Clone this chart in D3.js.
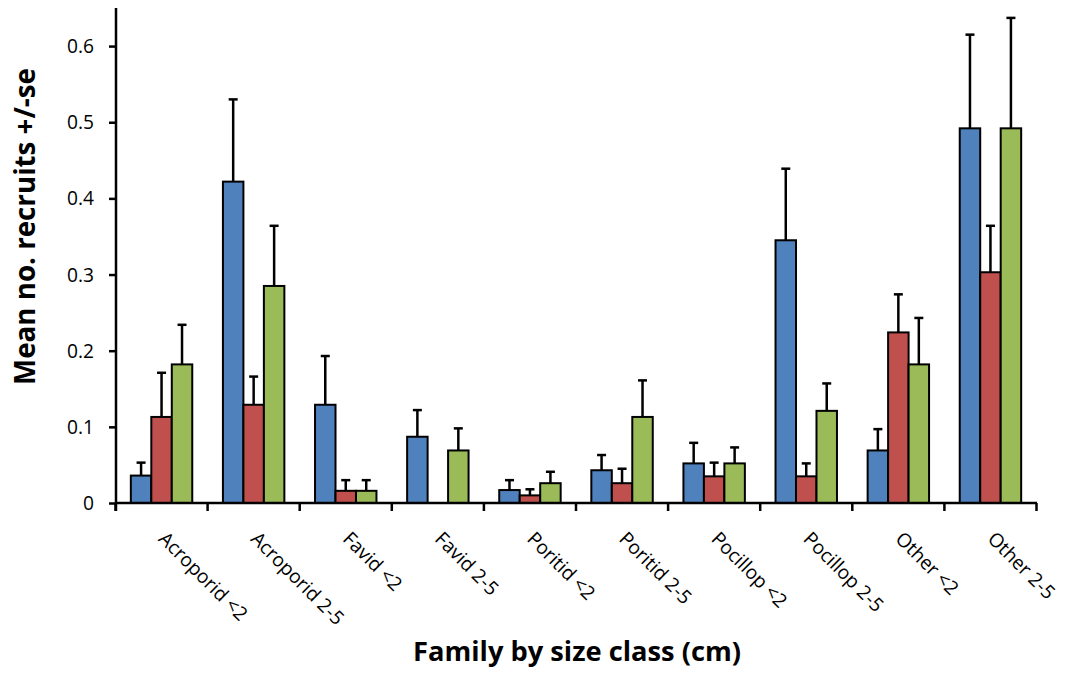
<!DOCTYPE html>
<html><head><meta charset="utf-8">
<script src="https://cdn.jsdelivr.net/npm/d3@7"></script>
<style>body{margin:0;background:#fff}svg{display:block}</style>
</head><body>
<script>
const categories = ["Acroporid <2","Acroporid 2-5","Favid <2","Favid 2-5","Poritid <2","Poritid 2-5","Pocillop <2","Pocillop 2-5","Other <2","Other 2-5"];
const seriesNames = ["s1","s2","s3"];
const colors = ["#4F81BD","#C0504D","#9BBB59"];
const s1 = [0.036,0.422,0.129,0.087,0.017,0.043,0.052,0.345,0.069,0.492];
const s1se = [0.017,0.108,0.064,0.035,0.013,0.020,0.027,0.094,0.028,0.123];
const s2 = [0.113,0.129,0.016,0,0.010,0.026,0.035,0.035,0.224,0.303];
const s2se = [0.058,0.037,0.014,0,0.008,0.019,0.018,0.017,0.050,0.061];
const s3 = [0.182,0.285,0.016,0.069,0.026,0.113,0.052,0.121,0.182,0.492];
const s3se = [0.052,0.079,0.014,0.029,0.015,0.048,0.021,0.036,0.061,0.145];
const yTicks = [0,0.1,0.2,0.3,0.4,0.5,0.6];
const yTitle = "Mean no. recruits +/-se";
const xTitle = "Family by size class (cm)";

const means = [s1,s2,s3], ses = [s1se,s2se,s3se];
const W = 1067, H = 677;
const font = "'Open Sans', sans-serif";
const svg = d3.select("body").append("svg").attr("width",W).attr("height",H);

function fitSize(text, weight, target){
  const t = svg.append("text").attr("font-family",font).attr("font-weight",weight).attr("font-size",100).text(text);
  const w = t.node().getComputedTextLength();
  t.remove();
  return 100*target/w;
}
const tickFs = fitSize("0.6","normal",27);
const catFs = fitSize("Acroporid <2","normal",116);
const xtFs = fitSize(xTitle,"bold",328);
const ytFs = fitSize(yTitle,"bold",317);

const x0 = d3.scaleBand().domain(categories).range([115.5,1036.5]).paddingInner(0.333).paddingOuter(0.1665);
const x1 = d3.scaleBand().domain(seriesNames).range([0,x0.bandwidth()]);
const y = d3.scaleLinear().domain([0,0.65]).range([503,8]);

categories.forEach((c,i)=>{
  seriesNames.forEach((s,j)=>{
    const v = means[j][i], e = ses[j][i];
    if (v<=0) return;
    const cx = x0(c)+x1(s)+x1.bandwidth()/2;
    svg.append("line").attr("x1",cx).attr("x2",cx).attr("y1",y(v)).attr("y2",y(v+e)).attr("stroke","#000").attr("stroke-width",2.5);
    svg.append("line").attr("x1",cx-4.5).attr("x2",cx+4.5).attr("y1",y(v+e)).attr("y2",y(v+e)).attr("stroke","#000").attr("stroke-width",2.5);
  });
});
categories.forEach((c,i)=>{
  seriesNames.forEach((s,j)=>{
    const v = means[j][i];
    if (v<=0) return;
    svg.append("rect").attr("x",x0(c)+x1(s)).attr("width",x1.bandwidth())
      .attr("y",y(v)).attr("height",y(0)-y(v))
      .attr("fill",colors[j]).attr("stroke","#000").attr("stroke-width",2);
  });
});

const yAxis = svg.append("g").attr("transform","translate(116,0)")
  .call(d3.axisLeft(y).tickValues(yTicks).tickSize(7).tickSizeOuter(0).tickFormat(d=>d===0?"0":d3.format(".1f")(d)));
yAxis.select(".domain").remove();
yAxis.selectAll(".tick line").attr("stroke","#000").attr("stroke-width",2.5);
yAxis.selectAll(".tick text").attr("font-family",font).attr("font-size",tickFs).attr("fill","#000").attr("x",-22).attr("dy","0.34em");

const bounds = d3.range(categories.length+1).map(k=>115.5+k*(1036.5-115.5)/categories.length);
svg.append("line").attr("x1",115).attr("x2",1037).attr("y1",503).attr("y2",503).attr("stroke","#000").attr("stroke-width",2.5);
svg.selectAll(".xt").data(bounds).enter().append("line")
  .attr("x1",d=>d).attr("x2",d=>d).attr("y1",503).attr("y2",511).attr("stroke","#000").attr("stroke-width",2.5);
svg.append("line").attr("x1",116).attr("x2",116).attr("y1",8).attr("y2",511).attr("stroke","#000").attr("stroke-width",2.5);

categories.forEach(c=>{
  const cx = x0(c)+x0.bandwidth()/2;
  svg.append("text").attr("transform",`translate(${cx-4},${540}) rotate(45)`)
    .attr("font-family",font).attr("font-size",catFs).attr("fill","#000").text(c);
});

svg.append("text").attr("transform","translate(35,226.5) rotate(-90)").attr("text-anchor","middle")
  .attr("font-family",font).attr("font-size",ytFs).attr("font-weight","bold").text(yTitle);
svg.append("text").attr("x",577).attr("y",661).attr("text-anchor","middle")
  .attr("font-family",font).attr("font-size",xtFs).attr("font-weight","bold").text(xTitle);
</script>
</body></html>
